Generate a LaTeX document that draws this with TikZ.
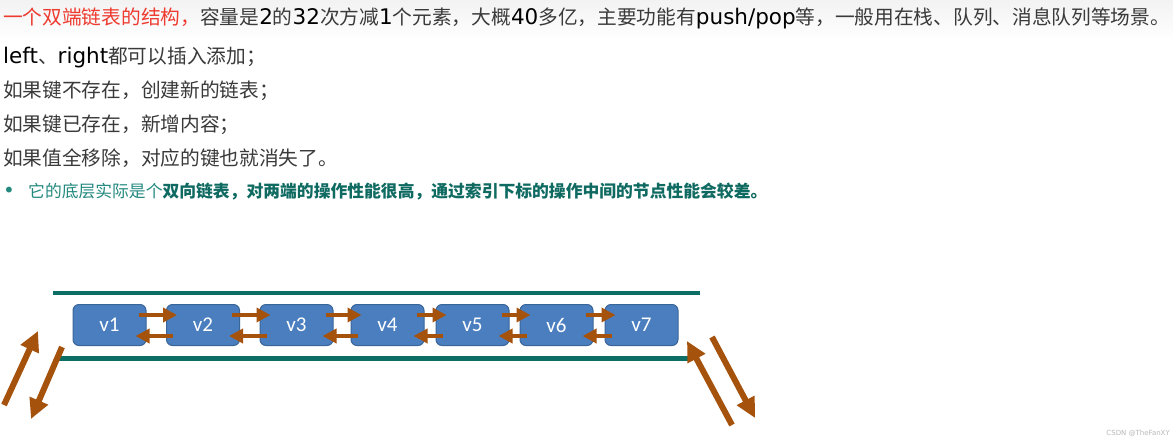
\documentclass[tikz,border=0pt]{standalone}
\usepackage{fontspec}
\setmainfont{Liberation Serif}
\newfontfamily\cjk{Noto Sans CJK SC}
\newfontfamily\lat{DejaVu Sans}
\newfontfamily\lbl{Carlito}
\usetikzlibrary{arrows.meta}
\definecolor{redtxt}{HTML}{EE3B30}
\definecolor{graytxt}{HTML}{3A3A3A}
\definecolor{tealA}{HTML}{23897F}
\definecolor{tealB}{HTML}{0F6A62}
\definecolor{tealline}{HTML}{0D6E66}
\definecolor{boxfill}{HTML}{4A7EBF}
\definecolor{boxdraw}{HTML}{3A6598}
\definecolor{arrbrown}{HTML}{A5520C}
\newcommand\latw[1]{{\lat\fontsize{21.5}{21.5}\selectfont\color{black}#1}}
\begin{document}
\begin{tikzpicture}[x=1pt,y=-1pt,
 txt/.style={anchor=west, inner sep=0pt, font=\cjk\fontsize{19.7}{19.7}\selectfont, text=graytxt},
 vbox/.style={draw=boxdraw, line width=1pt, fill=boxfill, rounded corners=6pt, minimum width=73pt, minimum height=41pt, inner sep=0pt, text=white, font=\lbl\fontsize{21}{21}\selectfont},
 link/.style={draw=arrbrown, line width=4pt, -{Triangle[length=14pt,width=14pt]}},
 side/.style={draw=arrbrown, line width=6pt, -{Triangle[length=20pt,width=19pt]}},
 rail/.style={draw=tealline, line width=4.3pt}]
\useasboundingbox (0,0) rectangle (1173,437);
\fill[white] (0,0) rectangle (1173,437);
\shade[top color=gray!10, bottom color=white] (0,0) rectangle (1173,40);

\node[txt] (l1) at (3,18) {\color{redtxt}一个双端链表的结构，\color{graytxt}容量是\latw{2}的\latw{32}次方减\latw{1}个元素，大概\latw{40}多亿，主要功能有\latw{push/pop}等，一般用在栈、队列、消息队列等场景。};
\node[txt] (l2) at (3,57) {\latw{left}、\latw{right}都可以插入添加；};
\node[txt] (l3) at (3,91) {如果键不存在，创建新的链表；};
\node[txt] (l4) at (3,125) {如果键已存在，新增内容；};
\node[txt] (l5) at (3,158) {如果值全移除，对应的键也就消失了。};
\node[txt, text=tealA, font=\lat\fontsize{20}{20}\selectfont] (bul) at (3,192) {•};
\node[txt, text=tealA, font=\cjk\fontsize{16.8}{17}\selectfont] (l6) at (28,192) {它的底层实际是个{\bfseries\color{tealB}双向链表，对两端的操作性能很高，通过索引下标的操作中间的节点性能会较差。}};

\draw[rail] (53,293) -- (700,293);
\draw[rail] (58,358.5) -- (690,358.5);

\node[vbox] (v1) at (109.5,325) {v1};
\node[vbox] (v2) at (203,325) {v2};
\node[vbox] (v3) at (296.5,325) {v3};
\node[vbox] (v4) at (387.5,325) {v4};
\node[vbox] (v5) at (472.5,325) {v5};
\node[vbox] (v6) at (556.5,325) {v6};
\node[vbox] (v7) at (641.5,325) {v7};

\foreach \a/\b in {v1/v2,v2/v3,v3/v4,v4/v5,v5/v6,v6/v7}{
  \draw[link] ([xshift=-8pt,yshift=10pt]\a.east) -- ([xshift=11pt,yshift=10pt]\b.west);
  \draw[link] ([xshift=7pt,yshift=-11pt]\b.west) -- ([xshift=-11pt,yshift=-11pt]\a.east);
}

\coordinate (la1) at (4,405);  \coordinate (la2) at (38,331);
\coordinate (lb1) at (62,347); \coordinate (lb2) at (31,419);
\coordinate (ra1) at (732,425); \coordinate (ra2) at (687,341);
\coordinate (rb1) at (712,337); \coordinate (rb2) at (755,418);
\draw[side] (la1) -- (la2);
\draw[side] (lb1) -- (lb2);
\draw[side] (ra1) -- (ra2);
\draw[side] (rb1) -- (rb2);

\node[anchor=east, inner sep=0pt, font=\lat\fontsize{7}{7}\selectfont, text=gray!55] (wm) at (1170,433) {CSDN @TheFanXY};
\end{tikzpicture}
\end{document}
